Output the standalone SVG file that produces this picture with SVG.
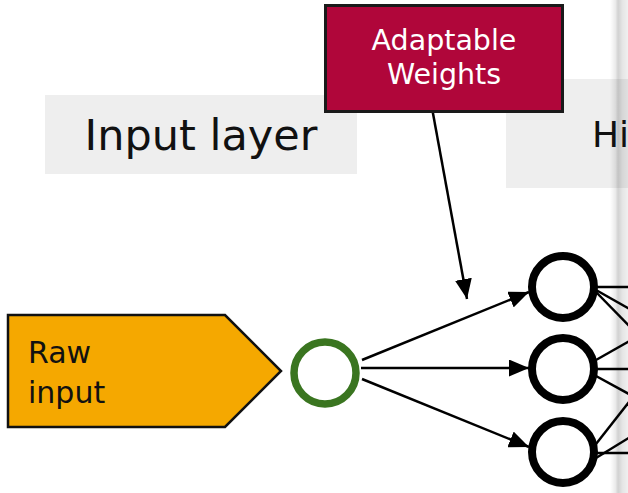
<svg xmlns="http://www.w3.org/2000/svg" width="628" height="493" viewBox="0 0 628 493">
  <style>
    .band { fill: #eeeeee; }
    .title { font-family: "DejaVu Sans", Verdana, sans-serif; fill: #111111; }
    .label { font-family: "DejaVu Sans", Verdana, sans-serif; }
    .wire { stroke: #000000; stroke-width: 2.5; fill: none; }
    .neuron { fill: #ffffff; stroke: #000000; stroke-width: 8; }
  </style>
  <defs>
    <marker id="head" markerUnits="userSpaceOnUse" markerWidth="21" markerHeight="17" refX="20" refY="8.5" orient="auto">
      <path d="M0,0 L20,8.5 L0,17 z" fill="#000000"/>
    </marker>
    <linearGradient id="edge" x1="0" y1="0" x2="1" y2="0">
      <stop offset="0" stop-color="#000000" stop-opacity="0"/>
      <stop offset="0.3" stop-color="#000000" stop-opacity="0.08"/>
      <stop offset="0.45" stop-color="#000000" stop-opacity="0.18"/>
      <stop offset="0.7" stop-color="#000000" stop-opacity="0.1"/>
      <stop offset="1" stop-color="#000000" stop-opacity="0.06"/>
    </linearGradient>
  </defs>

  <rect x="0" y="0" width="628" height="493" fill="#ffffff"/>

  <!-- layer header bands -->
  <g id="input-layer">
    <rect class="band" x="45" y="95" width="312" height="79"/>
    <text class="title" x="201" y="150" font-size="43" text-anchor="middle">Input layer</text>
  </g>
  <g id="hidden-layer">
    <rect class="band" x="506" y="79" width="130" height="109"/>
  </g>

  <!-- page-edge shading on the right -->
  <rect x="610" y="0" width="18" height="493" fill="url(#edge)"/>

  <g id="hidden-layer-title">
    <text class="title" x="592" y="147" font-size="36">Hi</text>
  </g>

  <!-- connectors -->
  <g id="connectors">
    <line class="wire" x1="432" y1="108" x2="467" y2="299" marker-end="url(#head)"/>
    <line class="wire" x1="362" y1="360" x2="529" y2="292" marker-end="url(#head)"/>
    <line class="wire" x1="361" y1="368" x2="529" y2="368" marker-end="url(#head)"/>
    <line class="wire" x1="362" y1="379" x2="529" y2="447" marker-end="url(#head)"/>
    <!-- outgoing links towards the next layer -->
    <line class="wire" x1="596" y1="287" x2="640" y2="287"/>
    <line class="wire" x1="596" y1="290" x2="640" y2="315"/>
    <line class="wire" x1="596" y1="292" x2="640" y2="337"/>
    <line class="wire" x1="596" y1="360" x2="640" y2="335"/>
    <line class="wire" x1="596" y1="369" x2="640" y2="369"/>
    <line class="wire" x1="596" y1="376" x2="640" y2="400"/>
    <line class="wire" x1="596" y1="444" x2="640" y2="388"/>
    <line class="wire" x1="596" y1="458" x2="640" y2="431"/>
    <line class="wire" x1="596" y1="453" x2="640" y2="453"/>
  </g>

  <g id="weights">
    <rect x="325.5" y="5.5" width="237" height="106" fill="#b0063a" stroke="#1a1a1a" stroke-width="3"/>
    <text class="label" x="444" y="50" font-size="28.5" fill="#ffffff" text-anchor="middle">Adaptable</text>
    <text class="label" x="444" y="84" font-size="28.5" fill="#ffffff" text-anchor="middle">Weights</text>
  </g>

  <g id="raw-input">
    <polygon points="8,315 225,315 281,371 225,427 8,427" fill="#f5a800" stroke="#111111" stroke-width="2.5"/>
    <text class="label" x="28" y="363" font-size="30" fill="#111111">Raw</text>
    <text class="label" x="28" y="403" font-size="30" fill="#111111">input</text>
  </g>

  <g id="input-neuron">
    <circle cx="325" cy="373" r="31" fill="#ffffff" stroke="#3a7520" stroke-width="7.5"/>
  </g>

  <g id="hidden-neuron-1">
    <circle class="neuron" cx="563" cy="287" r="31"/>
  </g>
  <g id="hidden-neuron-2">
    <circle class="neuron" cx="563" cy="369" r="31"/>
  </g>
  <g id="hidden-neuron-3">
    <circle class="neuron" cx="563" cy="452" r="31"/>
  </g>
</svg>
